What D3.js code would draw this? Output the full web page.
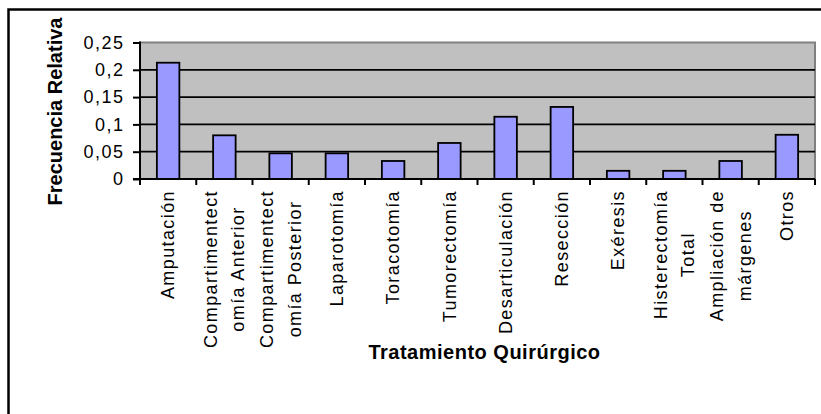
<!DOCTYPE html>
<html>
<head>
<meta charset="utf-8">
<title>Tratamiento Quirúrgico</title>
<script src="https://cdn.jsdelivr.net/npm/d3@7"></script>
<style>
  body { margin: 0; background: #fff; }
  svg { display: block; font-family: "Liberation Sans", Arial, sans-serif; }
</style>
</head>
<body>
<div id="container"></div>
<script>
  // Data.
  const categories = ["Amputación", "Compartimentectomía Anterior", "Compartimentectomía Posterior",
    "Laparotomía", "Toracotomía", "Tumorectomía", "Desarticulación", "Resección", "Exéresis",
    "Histerectomía Total", "Ampliación de márgenes", "Otros"];
  const labelLines = [["Amputación"], ["Compartimentect", "omía Anterior"], ["Compartimentect", "omía Posterior"],
    ["Laparotomía"], ["Toracotomía"], ["Tumorectomía"], ["Desarticulación"], ["Resección"], ["Exéresis"],
    ["Histerectomía", "Total"], ["Ampliación de", "márgenes"], ["Otros"]];
  const values = [0.213, 0.08, 0.047, 0.047, 0.033, 0.066, 0.114, 0.132, 0.015, 0.015, 0.033, 0.081];
  const yTicks = [0, 0.05, 0.1, 0.15, 0.2, 0.25];
  const yTickLabels = ["0", "0,05", "0,1", "0,15", "0,2", "0,25"];
  const xTitle = "Tratamiento Quirúrgico";
  const yTitle = "Frecuencia Relativa";

  const width = 821;
  const height = 414;
  const plotLeft = 140;
  const plotRight = 815;
  const plotTop = 42.5;
  const plotBottom = 179;

  const x = d3.scaleBand()
      .domain(categories)
      .range([plotLeft, plotRight])
      .padding(0);

  const y = d3.scaleLinear()
      .domain([0, 0.25])
      .range([plotBottom, plotTop]);

  const svg = d3.create("svg")
      .attr("width", width)
      .attr("height", height);

  // Outer chart border (runs off the right and bottom of the picture).
  svg.append("rect")
      .attr("x", 8.5).attr("y", 9.5)
      .attr("width", 840).attr("height", 440)
      .attr("fill", "none")
      .attr("stroke", "#000")
      .attr("stroke-width", 2.5);

  // Plot area.
  svg.append("rect")
      .attr("x", plotLeft).attr("y", plotTop)
      .attr("width", plotRight - plotLeft).attr("height", plotBottom - plotTop)
      .attr("fill", "#c0c0c0")
      .attr("stroke", "#808080")
      .attr("stroke-width", 2);

  // Gridlines.
  svg.append("g")
      .selectAll("line")
      .data(yTicks.filter(d => d > 0 && d < 0.25))
      .join("line")
      .attr("x1", plotLeft).attr("x2", plotRight)
      .attr("y1", d => y(d)).attr("y2", d => y(d))
      .attr("stroke", "#000")
      .attr("stroke-width", 1.8);

  // Bars.
  const barW = x.bandwidth() / 2.5;
  svg.append("g")
      .selectAll("rect")
      .data(values)
      .join("rect")
      .attr("x", (d, i) => x(categories[i]) + (x.bandwidth() - barW) / 2)
      .attr("y", d => y(d))
      .attr("width", barW)
      .attr("height", d => y(0) - y(d))
      .attr("fill", "#9999ff")
      .attr("stroke", "#000")
      .attr("stroke-width", 1.8);

  // Y axis.
  const yAxis = svg.append("g")
      .attr("transform", `translate(${plotLeft},0)`)
      .call(d3.axisLeft(y)
        .tickValues(yTicks)
        .tickSize(7)
        .tickPadding(8.5)
        .tickFormat((d, i) => yTickLabels[i]));
  yAxis.select(".domain").attr("stroke-width", 2).attr("d", `M0,${plotTop - 1}V${plotBottom + 1}`);
  yAxis.selectAll(".tick line").attr("stroke-width", 2);
  yAxis.selectAll(".tick text")
      .attr("font-size", 18)
      .attr("font-family", "Liberation Sans, Arial, sans-serif")
      .attr("letter-spacing", "1.5px")
      .attr("fill", "#000");

  // X axis: ticks on category boundaries.
  const boundaries = categories.map(c => x(c)).concat([plotRight]);
  svg.append("line")
      .attr("x1", plotLeft - 7).attr("x2", plotRight)
      .attr("y1", plotBottom).attr("y2", plotBottom)
      .attr("stroke", "#000").attr("stroke-width", 2);
  svg.append("g")
      .selectAll("line")
      .data(boundaries)
      .join("line")
      .attr("x1", d => d).attr("x2", d => d)
      .attr("y1", plotBottom).attr("y2", plotBottom + 6)
      .attr("stroke", "#000").attr("stroke-width", 2);

  // Category labels, rotated; multi-line labels centred within their block.
  const lineH = 27.5;
  const labels = svg.append("g")
      .selectAll("g")
      .data(labelLines)
      .join("g")
      .attr("transform", (d, i) => `translate(${x(categories[i]) + x.bandwidth() / 2},190) rotate(-90)`);
  labels.each(function(lines) {
    d3.select(this).selectAll("text")
        .data(lines)
        .join("text")
        .attr("font-size", 18)
        .attr("letter-spacing", "1.4px")
        .attr("fill", "#000")
        .attr("text-anchor", lines.length === 1 ? "end" : "middle")
        .attr("y", (d, j) => (j - (lines.length - 1) / 2) * lineH)
        .attr("dy", "0.35em")
        .text(d => d);
  });

  // Axis titles.
  svg.append("text")
      .attr("x", 484.5)
      .attr("y", 358.5)
      .attr("text-anchor", "middle")
      .attr("font-size", 20)
      .attr("font-weight", "bold")
      .attr("letter-spacing", "0.5px")
      .text(xTitle);

  svg.append("text")
      .attr("transform", "translate(62,111.5) rotate(-90)")
      .attr("text-anchor", "middle")
      .attr("font-size", 20)
      .attr("font-weight", "bold")
      .text(yTitle);

  document.getElementById("container").append(svg.node());

  // Multi-line labels: centre each line on the longest one, block top-aligned.
  labels.each(function(lines) {
    if (lines.length > 1) {
      const texts = d3.select(this).selectAll("text");
      const maxW = d3.max(texts.nodes(), n => n.getComputedTextLength());
      texts.attr("x", -maxW / 2);
    }
  });
</script>
</body>
</html>
